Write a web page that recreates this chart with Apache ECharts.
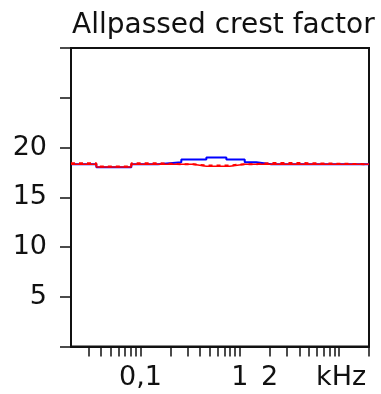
<!DOCTYPE html>
<html>
<head>
<meta charset="utf-8">
<script src="https://cdn.jsdelivr.net/npm/echarts@6/dist/echarts.min.js"></script>
<style>
  html, body { margin: 0; background: #fff; }
  #chart { width: 381px; height: 394px; }
</style>
</head>
<body>
<div id="chart"></div>
<script>
// band edges in Hz, one value per band for each curve
const bandEdges = [20, 36, 81, 150, 258, 339, 461, 733, 793, 1122, 1469, 2080, 3466, 20000];
const blueValues = [18.32, 18.02, 18.32, 18.52, 18.79, 18.79, 19.0, 18.79, 18.79, 18.52, 18.32, 18.32, 18.32];
const redValues = [18.32, 18.05, 18.32, 18.32, 18.32, 18.12, 18.12, 18.12, 18.32, 18.32, 18.32, 18.32, 18.32];
const redDashValues = [18.42, 18.1, 18.42, 18.32, 18.32, 18.2, 18.2, 18.2, 18.32, 18.32, 18.45, 18.45, 18.32];

const xTicks = [30, 40, 50, 60, 70, 80, 90, 100, 200, 300, 400, 500, 600, 700, 800, 900, 1000,
  2000, 3000, 4000, 5000, 6000, 7000, 8000, 9000, 10000, 20000];
const xLabelValues = [100, 1000, 2000];
const xLabelText = ['0,1', '1', '2'];
const yLabels = [5, 10, 15, 20];

const font = 'DejaVu Sans';

function steps(values) {
  return bandEdges.map((f, i) => [f, values[Math.min(i, values.length - 1)]]);
}

const chart = echarts.init(document.getElementById('chart'));
chart.setOption({
  animation: false,
  backgroundColor: '#fff',
  title: {
    text: 'Allpassed crest factor',
    left: 67,
    top: 7,
    textStyle: { fontFamily: font, fontSize: 28, fontWeight: 'normal', color: '#111' },
  },
  graphic: [
    {
      type: 'text',
      left: 316,
      top: 364,
      style: { text: 'kHz', fontFamily: font, fontSize: 27, fill: '#111' },
    },
  ],
  grid: {
    left: 71,
    right: 12,
    top: 48,
    bottom: 47.5,
    show: true,
    borderColor: '#111',
    borderWidth: 2,
  },
  xAxis: {
    type: 'log',
    logBase: 10,
    min: 20,
    max: 20000,
    axisLine: { lineStyle: { color: '#111', width: 2 } },
    axisTick: { customValues: xTicks, length: 10, lineStyle: { color: '#111', width: 1.5 } },
    axisLabel: {
      customValues: xLabelValues,
      formatter: (v) => xLabelText[xLabelValues.indexOf(v)] ?? '',
      fontFamily: font,
      fontSize: 27,
      color: '#111',
      margin: 18,
    },
    splitLine: { show: false },
    minorTick: { show: false },
  },
  yAxis: {
    type: 'value',
    min: 0,
    max: 30,
    interval: 5,
    axisLine: { show: true, lineStyle: { color: '#111', width: 2 } },
    axisTick: { show: true, length: 11, lineStyle: { color: '#111', width: 1.5 } },
    axisLabel: {
      formatter: (v) => (yLabels.includes(v) ? String(v) : ''),
      fontFamily: font,
      fontSize: 27,
      color: '#111',
      margin: 24,
    },
    splitLine: { show: false },
  },
  series: [
    {
      type: 'line',
      step: 'end',
      symbol: 'none',
      z: 2,
      data: steps(blueValues),
      lineStyle: { color: '#0000ff', width: 2 },
    },
    {
      type: 'line',
      step: 'end',
      symbol: 'none',
      z: 3,
      data: steps(redValues),
      lineStyle: { color: '#ff0000', width: 1.5 },
    },
    {
      type: 'line',
      step: 'end',
      symbol: 'none',
      z: 4,
      data: steps(redDashValues),
      lineStyle: { color: '#ff0000', width: 2, type: [4, 4] },
    },
  ],
});
</script>
</body>
</html>
